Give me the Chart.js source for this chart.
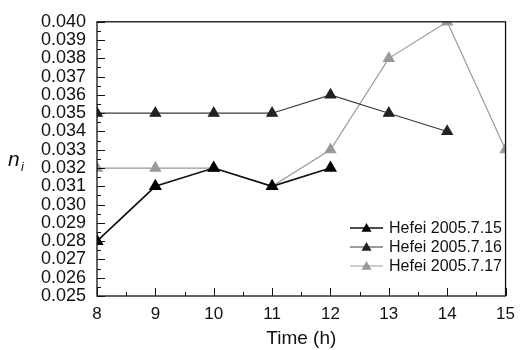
<!DOCTYPE html>
<html><head><meta charset="utf-8">
<script src="https://cdn.jsdelivr.net/npm/chart.js@4"></script>
<style>html,body{margin:0;padding:0;background:#fff}#wrap{width:523px;height:350px}</style>
</head><body><div id="wrap"><canvas id="c" width="523" height="350"></canvas></div>
<script>
const hours = [8, 9, 10, 11, 12, 13, 14, 15];
const seriesNames = ['Hefei 2005.7.15', 'Hefei 2005.7.16', 'Hefei 2005.7.17'];
const s0715 = [0.028, 0.031, 0.032, 0.031, 0.032, null, null, null];
const s0716 = [0.035, 0.035, 0.035, 0.035, 0.036, 0.035, 0.034, null];
const s0717 = [0.032, 0.032, 0.032, 0.031, 0.033, 0.038, 0.040, 0.033];
const yMin = 0.025, yMax = 0.040, yStep = 0.001;
const xMin = 8, xMax = 15;

const lineColors = ['#111111', '#3a3a3a', '#9a9a9a'];
const markColors = ['#000000', '#222222', '#999999'];
const allSeries = [s0715, s0716, s0717];

function pts(arr){ const o=[]; hours.forEach((h,i)=>{ if(arr[i]!==null) o.push({x:h,y:arr[i]}); }); return o; }

const datasets = allSeries.map((s,i)=>({
  label: seriesNames[i], data: pts(s),
  borderColor: lineColors[i], backgroundColor: markColors[i],
  pointBorderColor: markColors[i], pointBackgroundColor: markColors[i],
  borderWidth: i===0 ? 1.6 : 1.2, pointStyle: 'triangle', pointRadius: 6, tension: 0
}));

const FONT = 'Liberation Sans, Arial, sans-serif';

const decor = {
  id: 'decor',
  afterDraw(chart){
    const ctx = chart.ctx, a = chart.chartArea, xs = chart.scales.x, ys = chart.scales.y;
    ctx.save();
    ctx.strokeStyle = '#111'; ctx.lineWidth = 1.3;
    ctx.strokeRect(a.left, a.top, a.right - a.left, a.bottom - a.top);
    ctx.lineWidth = 1;
    const nY = Math.round((yMax - yMin)/(yStep/2));
    for (let k = 0; k <= nY; k++) {
      const py = Math.round(ys.getPixelForValue(yMin + k*yStep/2)) + 0.5;
      const len = (k % 2 === 0) ? 8 : 4;
      ctx.beginPath(); ctx.moveTo(a.left, py); ctx.lineTo(a.left + len, py); ctx.stroke();
    }
    for (let k = 0; k <= (xMax - xMin)*2; k++) {
      const px = Math.round(xs.getPixelForValue(xMin + k/2)) + 0.5;
      const len = (k % 2 === 0) ? 8 : 4;
      ctx.beginPath(); ctx.moveTo(px, a.bottom); ctx.lineTo(px, a.bottom - len); ctx.stroke();
    }
    ctx.fillStyle = '#111';
    ctx.font = 'italic 21px ' + FONT;
    ctx.textBaseline = 'alphabetic'; ctx.textAlign = 'left';
    ctx.fillText('n', 8, 166);
    ctx.font = 'italic 13px ' + FONT;
    ctx.fillText('i', 21, 171);
    const lx0 = 350, lx1 = 383, tx = 389, rows = [228, 247, 266];
    ctx.font = '16px ' + FONT; ctx.textBaseline = 'middle';
    chart.data.datasets.forEach((d,i)=>{
      const y = rows[i];
      ctx.strokeStyle = lineColors[i]; ctx.lineWidth = d.borderWidth;
      ctx.beginPath(); ctx.moveTo(lx0, y); ctx.lineTo(lx1, y); ctx.stroke();
      const mx = (lx0+lx1)/2, r = 5;
      ctx.fillStyle = markColors[i];
      ctx.beginPath(); ctx.moveTo(mx, y - r); ctx.lineTo(mx + r, y + r*0.75); ctx.lineTo(mx - r, y + r*0.75); ctx.closePath(); ctx.fill();
      ctx.fillStyle = '#111';
      ctx.fillText(d.label, tx, y + 1);
    });
    ctx.restore();
  }
};

new Chart(document.getElementById('c'), {
  type: 'line',
  data: { datasets },
  options: {
    responsive: false, animation: false, devicePixelRatio: 1,
    layout: { padding: { left: 0, right: 10, top: 20, bottom: 0 } },
    plugins: { legend: { display: false }, tooltip: { enabled: false } },
    scales: {
      x: {
        type: 'linear', min: xMin, max: xMax,
        grid: { display: false, drawTicks: false },
        border: { display: false },
        ticks: { stepSize: 1, padding: 8, autoSkip: false, color: '#111', font: { family: FONT, size: 17 }, maxRotation: 0 },
        title: { display: true, text: 'Time (h)', color: '#111', font: { family: FONT, size: 19 }, padding: { top: 0, bottom: 0 } },
        afterFit(s){ s.height = 54; }
      },
      y: {
        type: 'linear', min: yMin, max: yMax,
        grid: { display: false, drawTicks: false },
        border: { display: false },
        ticks: { stepSize: yStep, padding: 11, autoSkip: false, color: '#111', font: { family: FONT, size: 18 },
          callback: v => Number(v).toFixed(3) },
        afterFit(s){ s.width = 97; }
      }
    }
  },
  plugins: [decor]
});
</script></body></html>
